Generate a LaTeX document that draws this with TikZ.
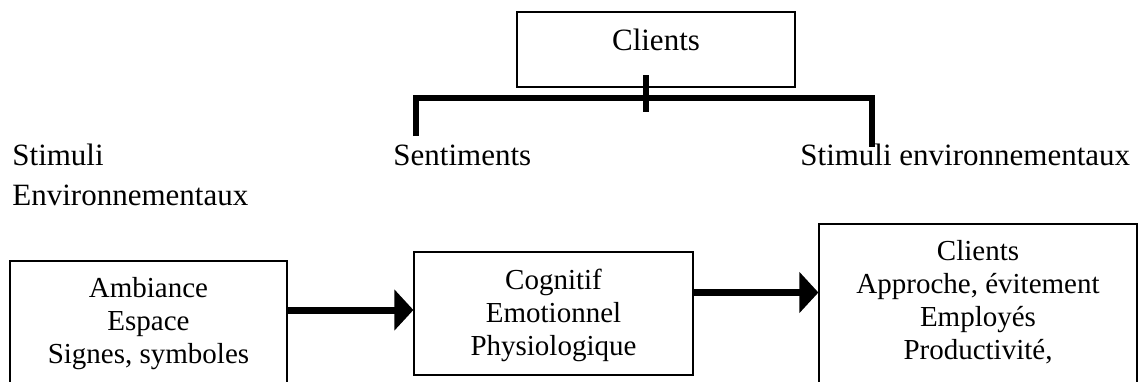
\documentclass[tikz,border=0pt]{standalone}
\usepackage{fontspec}
\setmainfont{Liberation Serif}
\usetikzlibrary{arrows.meta}
\begin{document}
\begin{tikzpicture}[x=0.5pt,y=-0.5pt,
  box/.style={draw, line width=0.6pt, inner sep=0pt},
  txt/.style={inner sep=0pt, anchor=base, font=\fontsize{14.5pt}{16.5pt}\selectfont},
  bigtxt/.style={inner sep=0pt, font=\fontsize{15.5pt}{18pt}\selectfont},
  bar/.style={line width=2.6pt, line join=miter},
  fatarrow/.style={line width=3.5pt, -{Triangle[length=9.5pt,width=20pt]}}]
\useasboundingbox (0,0) rectangle (1142,381);
\clip (0,0) rectangle (1142,381);

% boxes
\node[box, minimum width=139pt, minimum height=37.5pt] (topbox) at (656,49.5) {};
\node[box, minimum width=138.5pt, minimum height=69.5pt] (lbox) at (148.5,330.5) {};
\node[box, minimum width=139.5pt, minimum height=61.5pt] (mbox) at (553.5,313.5) {};
\node[box, minimum width=159pt, minimum height=88pt] (rbox) at (978,312) {};

% top box text
\node[bigtxt, anchor=base] (tc) at (656,50) {Clients};

% free texts
\node[bigtxt, anchor=base west] (s1) at (12,165) {Stimuli};
\node[bigtxt, anchor=base west] (s2) at (12,205) {Environnementaux};
\node[bigtxt, anchor=base west] (sent) at (393,165) {Sentiments};
\node[bigtxt, anchor=base west] (sr) at (800,165) {Stimuli environnementaux};

% box texts
\node[txt] (l1) at (148.5,297) {Ambiance};
\node[txt] (l2) at (148.5,330) {Espace};
\node[txt] (l3) at (148.5,363) {Signes, symboles};

\node[txt] (m1) at (553.5,289) {Cognitif};
\node[txt] (m2) at (553.5,322) {Emotionnel};
\node[txt] (m3) at (553.5,355) {Physiologique};

\node[txt] (r1) at (978,260) {Clients};
\node[txt] (r2) at (978,293) {Approche, évitement};
\node[txt] (r3) at (978,326) {Employés};
\node[txt] (r4) at (978,359) {Productivité,};

% bracket
\coordinate (tickTop) at (646,75);
\coordinate (tickBot) at (646,112);
\coordinate (barL) at (416,98);
\coordinate (barR) at (872,98);
\coordinate (legL) at (416,136);
\coordinate (legR) at (872,147);
\draw[bar] (legL) -- (barL) -- (barR) -- (legR);
\draw[bar] (tickTop) -- (tickBot);

% arrows
\draw[fatarrow] (lbox.east |- 0,310) -- (mbox.west |- 0,310);
\draw[fatarrow] (mbox.east |- 0,292.5) -- (rbox.west |- 0,292.5);
\end{tikzpicture}
\end{document}
